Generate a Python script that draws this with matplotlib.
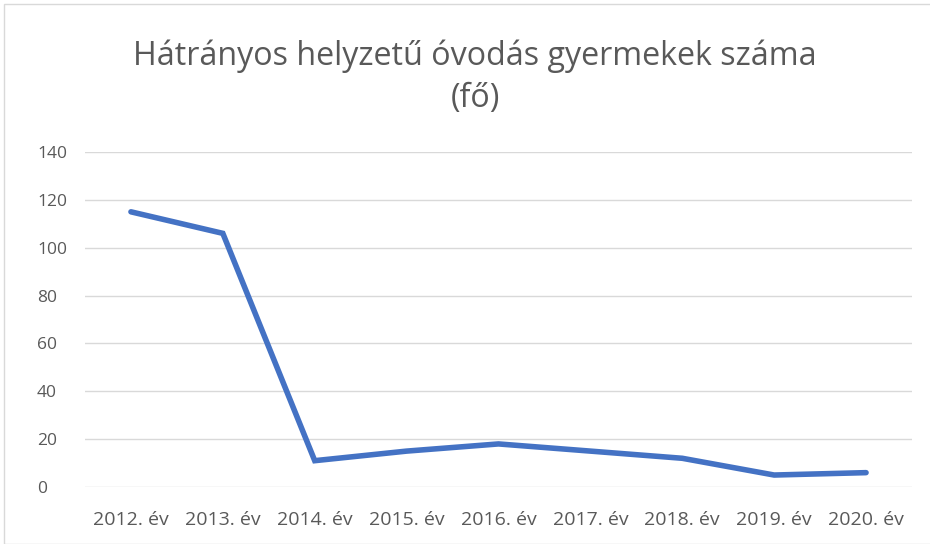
import matplotlib
matplotlib.use("agg")
import matplotlib.pyplot as plt
from matplotlib.patches import Rectangle

years = ["2012. év", "2013. év", "2014. év", "2015. év", "2016. év",
         "2017. év", "2018. év", "2019. év", "2020. év"]
counts = [115, 106, 11, 15, 18, 15, 12, 5, 6]
yticks = [0, 20, 40, 60, 80, 100, 120, 140]

plt.rcParams['font.family'] = ['Open Sans', 'DejaVu Sans']
text_color = "#595959"

fig = plt.figure(figsize=(9.30, 5.44), dpi=100)
ax = fig.add_axes([85 / 930, 1 - 487 / 544, (912 - 85) / 930, (487 - 152) / 544])

x = list(range(len(years)))
ax.plot(x, counts, color="#4472C4", lw=4.0, solid_capstyle="round",
        solid_joinstyle="miter")

ax.set_xlim(-0.5, len(years) - 0.5)
ax.set_ylim(0, 140)
ax.set_yticks(yticks)
ax.set_xticks(x)
ax.set_xticklabels(years)
ax.grid(True, axis="y", color="#D9D9D9", lw=1)
ax.set_axisbelow(True)
for s in ax.spines.values():
    s.set_visible(False)
ax.tick_params(length=0, labelcolor=text_color)
ax.tick_params(axis="x", pad=17, labelsize=14)
ax.tick_params(axis="y", pad=34.5, labelsize=12.5)
for lbl in ax.get_yticklabels():
    lbl.set_horizontalalignment("left")

# title is centred a bit right of the figure centre in the original
fig.text(475 / 930, 1 - 56 / 544, "Hátrányos helyzetű óvodás gyermekek száma",
         ha="center", va="center", fontsize=23.2, color=text_color)
fig.text(475 / 930, 1 - 99 / 544, "(fő)", ha="center", va="center",
         fontsize=23.2, color=text_color)

fig.patches.append(Rectangle((4 / 930, 0), 1.2, 1 - 4 / 544,
                             transform=fig.transFigure, fill=False,
                             edgecolor="#D9D9D9", lw=1))

plt.savefig("out.png", dpi=100)
